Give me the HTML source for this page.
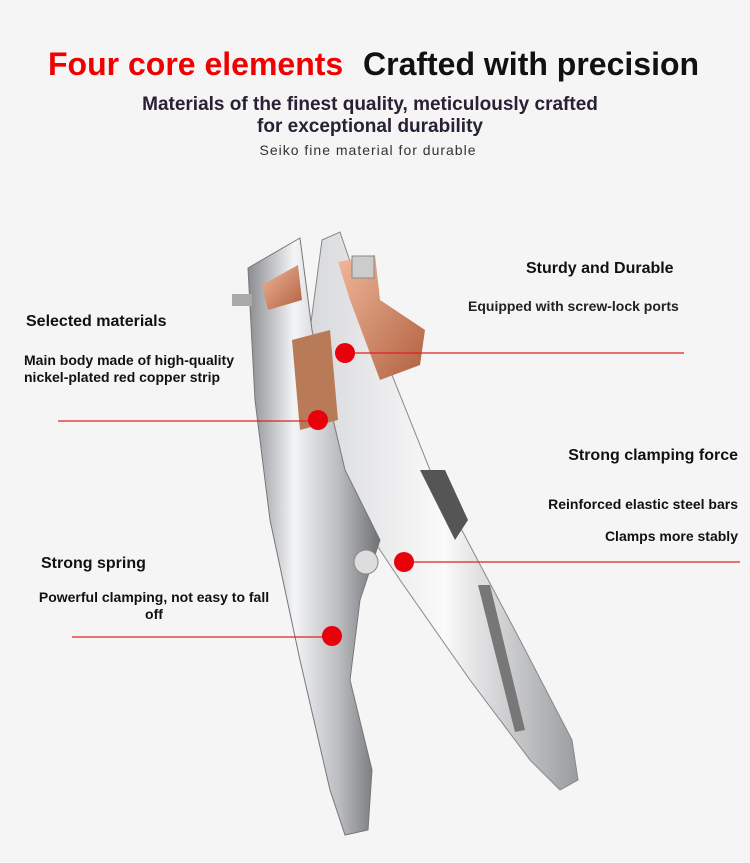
<!DOCTYPE html>
<html><head><meta charset="utf-8"><style>
body{margin:0;width:750px;height:863px;background:#f5f5f5;font-family:"Liberation Sans",sans-serif;position:relative;overflow:hidden}
.t{position:absolute;white-space:nowrap;font-weight:bold;color:#111}
</style></head><body>
<svg width="750" height="863" style="position:absolute;left:0;top:0">
<defs>
<linearGradient id="g1" x1="0" y1="0" x2="1" y2="0"><stop offset="0" stop-color="#8a8c90"/><stop offset=".35" stop-color="#f4f5f7"/><stop offset=".7" stop-color="#b8babe"/><stop offset="1" stop-color="#6e7074"/></linearGradient>
<linearGradient id="g2" x1="0" y1="0" x2="1" y2="0"><stop offset="0" stop-color="#d8d9dc"/><stop offset=".5" stop-color="#fafafa"/><stop offset="1" stop-color="#9a9ca0"/></linearGradient>
<linearGradient id="cu" x1="0" y1="0" x2="1" y2="1"><stop offset="0" stop-color="#f0b89a"/><stop offset="1" stop-color="#b06040"/></linearGradient>
</defs>
<path d="M322,240 L340,232 L370,320 L430,470 L520,640 L572,740 L578,780 L560,790 L530,760 L470,680 L400,580 L360,520 L330,440 L310,330 Z" fill="url(#g2)" stroke="#888" stroke-width="1"/>
<path d="M420,470 L445,470 L468,520 L455,540 Z" fill="#555"/>
<path d="M478,585 L490,585 L525,730 L515,732 Z" fill="#777"/>
<path d="M248,268 L300,238 L312,330 L345,470 L380,540 L360,600 L350,680 L372,770 L368,830 L345,835 L330,790 L300,660 L270,520 L255,400 Z" fill="url(#g1)" stroke="#777" stroke-width="1"/>
<path d="M262,285 L298,265 L302,300 L268,310 Z" fill="url(#cu)"/>
<path d="M292,340 L330,330 L338,420 L300,430 Z" fill="#b97a58"/>
<path d="M338,262 L375,255 L380,300 L425,330 L420,365 L380,380 L350,300 Z" fill="url(#cu)"/>
<rect x="352" y="256" width="22" height="22" fill="#ccc" stroke="#888"/>
<rect x="232" y="294" width="20" height="12" fill="#aaa"/>
<circle cx="366" cy="562" r="12" fill="#ddd" stroke="#888"/>
<g stroke="#e02020" stroke-width="1.3">
<line x1="345" y1="353" x2="684" y2="353"/>
<line x1="58" y1="421" x2="318" y2="421"/>
<line x1="404" y1="562" x2="740" y2="562"/>
<line x1="72" y1="637" x2="332" y2="637"/>
</g>
<g fill="#e8000b">
<circle cx="345" cy="353" r="10"/><circle cx="318" cy="420" r="10"/>
<circle cx="404" cy="562" r="10"/><circle cx="332" cy="636" r="10"/>
</g>
</svg>
<div class="t" style="left:48px;top:46px;font-size:32px;color:#f00000">Four core elements</div>
<div class="t" style="left:363px;top:46px;font-size:32px">Crafted with precision</div>
<div class="t" style="left:0;width:740px;text-align:center;top:94px;font-size:19px;color:#2a2035;line-height:22px;white-space:normal">Materials of the finest quality, meticulously crafted<br>for exceptional durability</div>
<div class="t" style="left:0;width:736px;text-align:center;top:142px;font-size:14px;font-weight:normal;letter-spacing:1px;color:#333">Seiko fine material for durable</div>
<div class="t" style="left:526px;top:260px;font-size:16px">Sturdy and Durable</div>
<div class="t" style="left:468px;top:298px;font-size:14px;color:#222">Equipped with screw-lock ports</div>
<div class="t" style="left:26px;top:313px;font-size:16px">Selected materials</div>
<div class="t" style="left:24px;top:352px;font-size:14px;line-height:17px">Main body made of high-quality<br>nickel-plated red copper strip</div>
<div class="t" style="right:12px;top:447px;font-size:16px">Strong clamping force</div>
<div class="t" style="right:12px;top:496px;font-size:14px">Reinforced elastic steel bars</div>
<div class="t" style="right:12px;top:528px;font-size:14px">Clamps more stably</div>
<div class="t" style="left:41px;top:555px;font-size:16px">Strong spring</div>
<div class="t" style="left:24px;width:260px;text-align:center;top:589px;font-size:14px;line-height:17px">Powerful clamping, not easy to fall<br>off</div>
</body></html>
